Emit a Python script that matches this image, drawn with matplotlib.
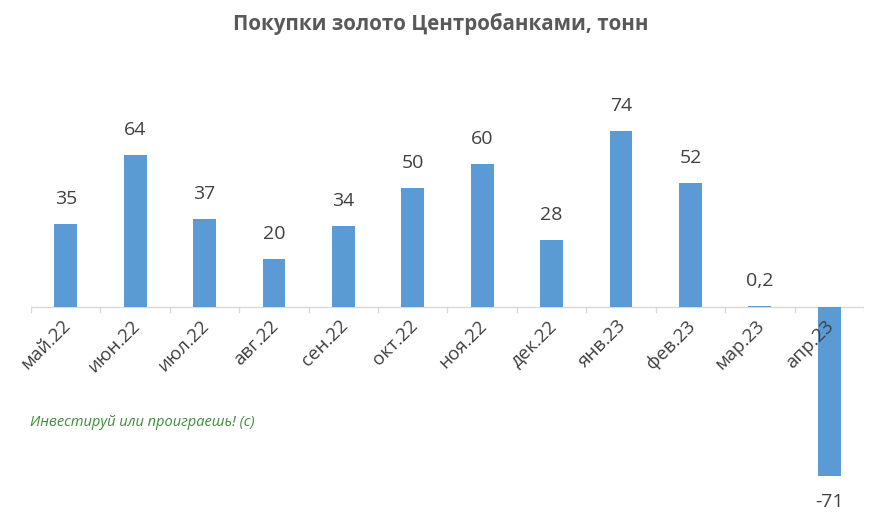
import numpy as np
import matplotlib.pyplot as plt

months = ["май.22", "июн.22", "июл.22", "авг.22", "сен.22", "окт.22",
          "ноя.22", "дек.22", "янв.23", "фев.23", "мар.23", "апр.23"]
values = [35, 64, 37, 20, 34, 50, 60, 28, 74, 52, 0.2, -71]
labels = ["35", "64", "37", "20", "34", "50", "60", "28", "74", "52", "0,2", "-71"]

plt.rcParams['font.family'] = ['Open Sans', 'DejaVu Sans']

fig = plt.figure(figsize=(8.82, 5.18), dpi=100)
ax = fig.add_axes([31/882, 9/518, 833/882, 440/518])

x = np.arange(len(months))
ax.bar(x, values, width=0.33, color="#5b9bd5", zorder=2)
ax.set_xlim(-0.5, 11.5)
ax.set_ylim(-85, 100)
ax.axhline(0, color="#d9d9d9", lw=1, zorder=1)

for xi, v, t in zip(x, values, labels):
    if v >= 0:
        ax.annotate(t, (xi, v), xytext=(0, 18), textcoords="offset points",
                    ha="center", va="center", fontsize=14, color="#404040")
    else:
        ax.annotate(t, (xi, v), xytext=(0, -19), textcoords="offset points",
                    ha="center", va="center", fontsize=14, color="#404040")

# boundary ticks under the zero line
for b in np.arange(-0.5, 12, 1):
    ax.plot([b, b], [0, -2.2], color="#d9d9d9", lw=1, zorder=1)

# category labels, rotated
for xi, m in zip(x, months):
    ax.annotate(m, (xi, 0), xytext=(-3, -7), textcoords="offset points",
                ha="right", va="top", rotation=45, rotation_mode="anchor",
                fontsize=13.5, color="#404040")

for s in ax.spines.values():
    s.set_visible(False)
ax.set_xticks([])
ax.set_yticks([])

fig.text(0.5, 1 - 24/518, "Покупки золото Центробанками, тонн", ha="center",
         va="center", fontsize=14.8, fontweight="bold", color="#595959")
fig.text(30/882, 1 - 422/518, "Инвестируй или проиграешь! (c)", ha="left",
         va="center", fontsize=10.5, style="italic", color="#3f8a3a")

fig.savefig("out.png", dpi=100)
